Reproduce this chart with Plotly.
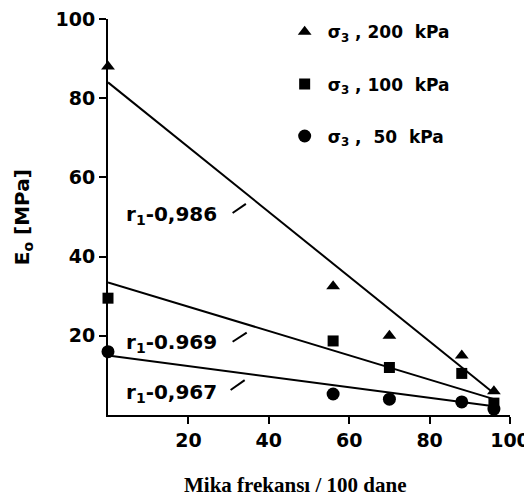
import plotly.graph_objects as go

# ---- data ----
mika = [0, 56, 70, 88, 96]
e200 = [88, 32.5, 20, 15, 6]
e100 = [29.5, 18.7, 12, 10.5, 3]
e50 = [16, 5.3, 4, 3.3, 1.5]

fit_x = [0, 96]
fit200 = [84, 5.5]
fit100 = [33.5, 4]
fit50 = [15, 2.2]

r_labels = ["r<sub>1</sub>-0,986", "r<sub>1</sub>-0.969", "r<sub>1</sub>-0,967"]
r_label_pos = [(4, 50.5), (4, 18.3), (4, 5.5)]
leaders = [((31, 51), (34.3, 53.3)), ((31, 18.5), (34.5, 20.8)), ((30.5, 6.3), (34, 8.8))]

legend_names = ["σ<sub>3</sub> , 200  kPa", "σ<sub>3</sub> , 100  kPa", "σ<sub>3</sub> ,  50  kPa"]
x_ticks = [20, 40, 60, 80, 100]
y_ticks = [20, 40, 60, 80, 100]

FONT = "DejaVu Sans"
fig = go.Figure()

for y, sym, size, name, grp in [
    (e200, "triangle-up", 12, legend_names[0], "a"),
    (e100, "square", 11, legend_names[1], "b"),
    (e50, "circle", 13, legend_names[2], "c"),
]:
    fig.add_trace(go.Scatter(x=mika, y=y, mode="markers", name=name, legendgroup=grp,
                             marker=dict(symbol=sym, size=size, color="black"),
                             cliponaxis=False))

for y in [fit200, fit100, fit50]:
    fig.add_trace(go.Scatter(x=fit_x, y=y, mode="lines", showlegend=False,
                             line=dict(color="black", width=2), cliponaxis=False))

for txt, (x, y) in zip(r_labels, r_label_pos):
    fig.add_annotation(x=x, y=y, text=txt, showarrow=False, xanchor="left", yanchor="middle",
                       font=dict(family=FONT, size=20, color="black", weight="bold"))

for (p0, p1) in leaders:
    fig.add_shape(type="line", x0=p0[0], y0=p0[1], x1=p1[0], y1=p1[1],
                  line=dict(color="black", width=2))

# axis titles
fig.add_annotation(xref="paper", yref="paper", x=0.465, y=-0.178, text="Mika frekansı / 100 dane",
                   showarrow=False, xanchor="center", yanchor="middle",
                   font=dict(family="Liberation Serif", size=21, color="black", weight="bold"))
fig.add_annotation(xref="paper", yref="paper", x=-0.211, y=0.5, text="E<sub>o</sub> [MPa]",
                   showarrow=False, textangle=-90, xanchor="center", yanchor="middle",
                   font=dict(family=FONT, size=20, color="black", weight="bold"))

axis_common = dict(showline=True, linewidth=2, linecolor="black", showgrid=False, zeroline=False,
                   ticks="outside", ticklen=7, tickwidth=2, tickcolor="black", automargin=False,
                   ticklabeloverflow="allow",
                   tickfont=dict(family=FONT, size=19, color="black", weight="bold"))
fig.update_xaxes(range=[0, 100], tickvals=x_ticks, ticktext=[str(v) for v in x_ticks], **axis_common)
fig.update_yaxes(range=[0, 100], tickvals=y_ticks, ticktext=[str(v) for v in y_ticks], **axis_common)

# the page adds an 8px body margin, so the figure is 8px smaller than the window
fig.update_layout(
    width=524, height=494,
    margin=dict(l=100, r=22, t=11, b=87, autoexpand=False),
    paper_bgcolor="white", plot_bgcolor="white",
    showlegend=True,
    legend=dict(x=0.432, y=1.012, xanchor="left", yanchor="top", bgcolor="rgba(0,0,0,0)",
                tracegroupgap=27, itemwidth=36,
                font=dict(family=FONT, size=17, color="black", weight="bold")),
)

fig.write_html("out.html")
